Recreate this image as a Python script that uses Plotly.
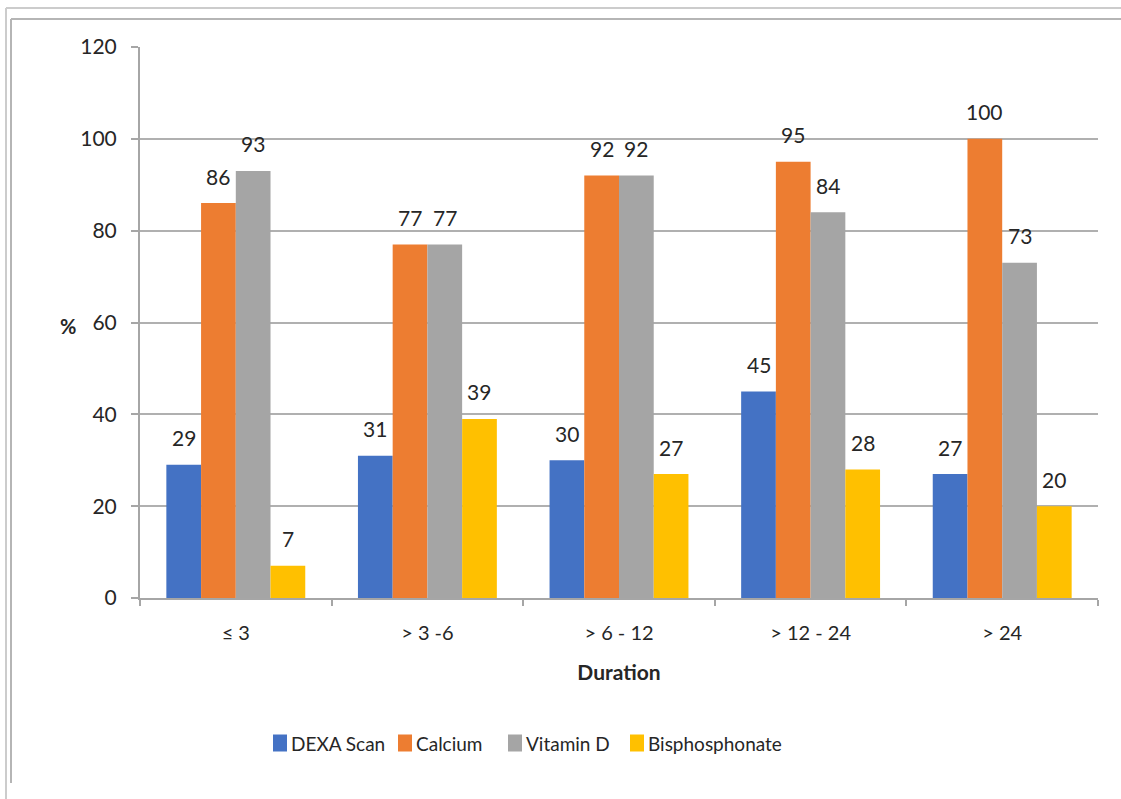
import plotly.graph_objects as go

# Duration groups (months) and the share (%) of patients per measure
durations = ["≤ 3", "> 3 -6", "> 6 - 12", "> 12 - 24", "> 24"]
dexa_scan = [29, 31, 30, 45, 27]
calcium = [86, 77, 92, 95, 100]
vitamin_d = [93, 77, 92, 84, 73]
bisphosphonate = [7, 39, 27, 28, 20]

series = [
    ("DEXA Scan", dexa_scan, "#4472C4"),
    ("Calcium", calcium, "#ED7D31"),
    ("Vitamin D", vitamin_d, "#A5A5A5"),
    ("Bisphosphonate", bisphosphonate, "#FFC000"),
]

FONT = "Lato, 'Open Sans', sans-serif"
TXT = "#262626"
W, H = 1121, 799
ML, MR, MT, MB = 140, 23, 47, 201
plot_w = W - ML - MR
plot_h = H - MT - MB
BARGAP = 0.275

fig = go.Figure()
for name, vals, color in series:
    fig.add_trace(go.Bar(name=name, x=durations, y=vals, marker_color=color,
                         marker_line_width=0, showlegend=False))

# value labels above each bar
cat_w = plot_w / len(durations)
bar_w = cat_w * (1 - BARGAP) / len(series)
for i, (name, vals, color) in enumerate(series):
    dx = (i - (len(series) - 1) / 2) * bar_w
    for cat, v in zip(durations, vals):
        fig.add_annotation(x=cat, y=v, text=str(v), showarrow=False,
                           xshift=dx, yshift=27, yanchor="middle",
                           font=dict(family=FONT, size=21, color=TXT))


# pixel -> paper coordinate helpers for the frame and legend
def px_x(p):
    return (p - ML) / plot_w


def px_y(p):
    return (H - MB - p) / plot_h


frame = [
    (6, 8, W, 8, "#cccccc"),
    (6, 8, 6, H, "#cccccc"),
    (11, 19, W, 19, "#b5b5b5"),
    (11, 19, 11, 783, "#b5b5b5"),
]
for x0, y0, x1, y1, c in frame:
    fig.add_shape(type="line", xref="paper", yref="paper",
                  x0=px_x(x0), y0=px_y(y0), x1=px_x(x1), y1=px_y(y1),
                  line=dict(color=c, width=2))

# legend row: colour swatch followed by the series name
legend_x = [273, 398, 508, 630]
legend_y = 743
for (name, vals, color), lx in zip(series, legend_x):
    fig.add_shape(type="rect", xref="paper", yref="paper",
                  x0=px_x(lx), x1=px_x(lx + 14),
                  y0=px_y(legend_y - 8.5), y1=px_y(legend_y + 8.5),
                  fillcolor=color, line_width=0)
    fig.add_annotation(xref="paper", yref="paper", x=px_x(lx + 16),
                       y=px_y(legend_y), text=name, showarrow=False,
                       xanchor="left", yanchor="middle",
                       font=dict(family=FONT, size=19, color=TXT))

fig.add_annotation(xref="paper", yref="paper", x=px_x(58), y=px_y(326),
                   text="<b>%</b>", showarrow=False,
                   font=dict(family=FONT, size=20, color=TXT))

fig.update_layout(
    width=W, height=H,
    margin=dict(l=ML, r=MR, t=MT, b=MB),
    paper_bgcolor="white", plot_bgcolor="white",
    barmode="group", bargap=BARGAP, bargroupgap=0,
    font=dict(family=FONT, size=21, color=TXT),
    showlegend=False,
    xaxis=dict(
        showline=True, linecolor="#a6a6a6", linewidth=2,
        ticks="outside", tickson="boundaries", ticklen=6,
        tickcolor="#a6a6a6", tickwidth=2, ticklabelstandoff=16,
        tickfont=dict(family=FONT, size=20, color=TXT),
        title=dict(text="<b>Duration</b>", standoff=22,
                   font=dict(family=FONT, size=21, color=TXT)),
    ),
    yaxis=dict(
        range=[0, 120], tickvals=[0, 20, 40, 60, 80, 100, 120],
        showline=True, linecolor="#a6a6a6", linewidth=2,
        showgrid=True, gridcolor="#b0b0b0", gridwidth=2,
        ticks="outside", ticklen=7, tickcolor="#a6a6a6", tickwidth=2,
        ticklabelstandoff=10, zeroline=False,
        tickfont=dict(family=FONT, size=21, color=TXT),
    ),
)

fig.write_html("out.html")
